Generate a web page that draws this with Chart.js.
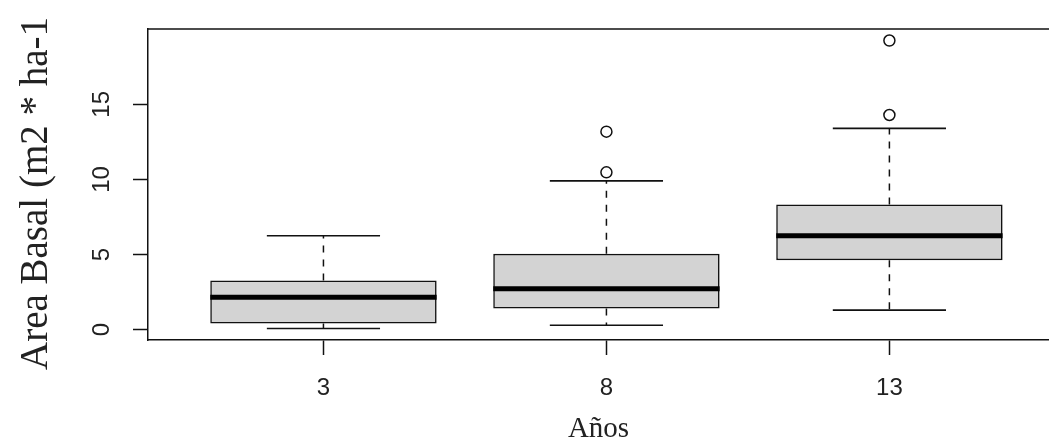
<!DOCTYPE html>
<html>
<head>
<meta charset="utf-8">
<script src="https://cdn.jsdelivr.net/npm/chart.js@4"></script>
<style>
  body { margin: 0; background: #fff; overflow: hidden; }
</style>
</head>
<body>
<canvas id="myChart" width="1049" height="444"></canvas>
<script>
const anios = ['3', '8', '13'];
const bigoteInf = [0.07, 0.29, 1.29];
const cuartil1 = [0.40, 1.40, 4.62];
const mediana = [2.15, 2.71, 6.25];
const cuartil3 = [3.27, 5.04, 8.33];
const bigoteSup = [6.25, 9.90, 13.40];
const atipicos = [[], [10.47, 13.18], [14.29, 19.25]];
const yTicks = [0, 5, 10, 15];

const tituloX = 'Años';
const tituloY = 'Area Basal (m2 * ha-1';

const sans = "'Liberation Sans', Arial, sans-serif";
const serif = "'Liberation Serif', 'Times New Roman', serif";

// limites del eje como en R (4% extra)
const todos = bigoteInf.concat(bigoteSup, atipicos.flat());
const lo = Math.min(...todos), hi = Math.max(...todos);
const yMin = lo - 0.04 * (hi - lo);
const yMax = hi + 0.04 * (hi - lo);

const cajas = anios.map((a, i) => ({ x: i + 1, y: [cuartil1[i], cuartil3[i]] }));
const puntos = [];
atipicos.forEach((lista, i) => lista.forEach(v => puntos.push({ x: i + 1, y: v })));

const boxPlugin = {
  id: 'boxExtras',
  afterDatasetsDraw(chart) {
    const { ctx, chartArea, scales: { x, y } } = chart;
    ctx.save();
    ctx.strokeStyle = '#111';

    // marco superior
    ctx.lineWidth = 1.5;
    ctx.beginPath();
    ctx.moveTo(chartArea.left, chartArea.top);
    ctx.lineTo(chartArea.right, chartArea.top);
    ctx.stroke();

    anios.forEach((a, i) => {
      const px = x.getPixelForValue(i + 1);
      const capL = x.getPixelForValue(i + 1 - 0.2);
      const capR = x.getPixelForValue(i + 1 + 0.2);

      // bigotes punteados
      ctx.lineWidth = 1.5;
      ctx.setLineDash([7, 7]);
      ctx.beginPath();
      ctx.moveTo(px, y.getPixelForValue(cuartil3[i]));
      ctx.lineTo(px, y.getPixelForValue(bigoteSup[i]));
      ctx.moveTo(px, y.getPixelForValue(cuartil1[i]));
      ctx.lineTo(px, y.getPixelForValue(bigoteInf[i]));
      ctx.stroke();
      ctx.setLineDash([]);

      // topes
      ctx.lineWidth = 1.6;
      ctx.beginPath();
      ctx.moveTo(capL, y.getPixelForValue(bigoteSup[i]));
      ctx.lineTo(capR, y.getPixelForValue(bigoteSup[i]));
      ctx.moveTo(capL, y.getPixelForValue(bigoteInf[i]));
      ctx.lineTo(capR, y.getPixelForValue(bigoteInf[i]));
      ctx.stroke();

      // mediana
      const bl = x.getPixelForValue(i + 1 - 0.4);
      const br = x.getPixelForValue(i + 1 + 0.4);
      ctx.lineWidth = 5;
      ctx.strokeStyle = '#000';
      ctx.beginPath();
      ctx.moveTo(bl, y.getPixelForValue(mediana[i]));
      ctx.lineTo(br, y.getPixelForValue(mediana[i]));
      ctx.stroke();
      ctx.strokeStyle = '#111';
    });

    // etiquetas del eje y (rotadas, como R)
    ctx.fillStyle = '#222';
    ctx.font = '24px ' + sans;
    ctx.textAlign = 'center';
    ctx.textBaseline = 'middle';
    yTicks.forEach(v => {
      ctx.save();
      ctx.translate(chartArea.left - 46, y.getPixelForValue(v));
      ctx.rotate(-Math.PI / 2);
      ctx.fillText(String(v), 0, 0);
      ctx.restore();
    });

    // titulo eje y
    ctx.save();
    ctx.font = '39px ' + serif;
    ctx.textAlign = 'left';
    ctx.textBaseline = 'alphabetic';
    ctx.translate(47, chartArea.bottom + 30);
    ctx.rotate(-Math.PI / 2);
    ctx.fillText(tituloY, 0, 0);
    ctx.restore();

    ctx.restore();
  }
};

const ctx = document.getElementById('myChart');

new Chart(ctx, {
  type: 'bar',
  data: {
    datasets: [{
      type: 'bar',
      data: cajas,
      backgroundColor: '#d3d3d3',
      borderColor: '#111',
      borderWidth: 1.6,
      borderSkipped: false,
      barPercentage: 1,
      categoryPercentage: 0.8,
      order: 2
    }, {
      type: 'scatter',
      data: puntos,
      pointRadius: 5.5,
      pointBorderWidth: 1.5,
      pointBackgroundColor: '#fff',
      pointBorderColor: '#111',
      order: 1
    }]
  },
  options: {
    responsive: false,
    animation: false,
    layout: { autoPadding: false, padding: { top: 29, left: 0, right: 0, bottom: 0 } },
    plugins: {
      legend: { display: false },
      tooltip: { enabled: false }
    },
    scales: {
      x: {
        type: 'linear',
        min: 0.38,
        max: 3.564,
        offset: false,
        afterBuildTicks: s => { s.ticks = anios.map((a, i) => ({ value: i + 1 })); },
        afterFit: s => { s.height = 104; s.paddingLeft = 0; s.paddingRight = 0; },
        ticks: {
          callback: v => anios[v - 1],
          autoSkip: false,
          maxRotation: 0,
          padding: 19,
          color: '#222',
          font: { family: sans, size: 24 }
        },
        grid: {
          offset: false,
          drawOnChartArea: false,
          drawTicks: true,
          tickLength: 15,
          tickWidth: 1.5,
          tickColor: '#111'
        },
        border: { display: true, color: '#111', width: 1.5 },
        title: {
          display: true,
          text: tituloX,
          color: '#222',
          padding: { top: 0, bottom: 0 },
          font: { family: serif, size: 29, lineHeight: 1 }
        }
      },
      y: {
        type: 'linear',
        min: yMin,
        max: yMax,
        afterBuildTicks: s => { s.ticks = yTicks.map(v => ({ value: v })); },
        afterFit: s => { s.width = 148; s.paddingTop = 0; s.paddingBottom = 0; },
        ticks: { display: false },
        grid: {
          drawOnChartArea: false,
          drawTicks: true,
          tickLength: 15,
          tickWidth: 1.5,
          tickColor: '#111'
        },
        border: { display: true, color: '#111', width: 1.5 }
      }
    }
  },
  plugins: [boxPlugin]
});
</script>
</body>
</html>
